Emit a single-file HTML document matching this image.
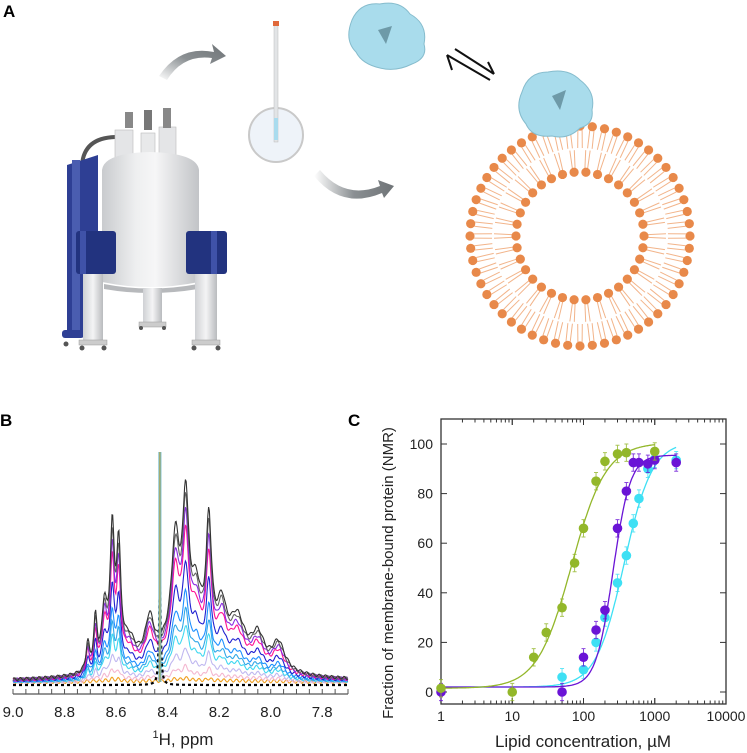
<!DOCTYPE html>
<html><head><meta charset="utf-8">
<style>
html,body{margin:0;padding:0;background:#fff;}
svg{display:block;font-family:"Liberation Sans",Arial,sans-serif;}
</style></head>
<body>
<svg id="fig" width="747" height="753" viewBox="0 0 747 753" xmlns="http://www.w3.org/2000/svg">
<defs>
  <linearGradient id="cyl" x1="0" x2="1"><stop offset="0" stop-color="#c9cbce"/><stop offset="0.35" stop-color="#eeeff0"/><stop offset="0.55" stop-color="#f6f6f7"/><stop offset="1" stop-color="#c2c4c7"/></linearGradient>
  <linearGradient id="leg" x1="0" x2="1"><stop offset="0" stop-color="#cfd1d4"/><stop offset="0.5" stop-color="#f4f4f5"/><stop offset="1" stop-color="#b9bbbe"/></linearGradient>
  <linearGradient id="arr1" x1="0" y1="1" x2="1" y2="0"><stop offset="0" stop-color="#ffffff"/><stop offset="0.5" stop-color="#8a8f92"/><stop offset="1" stop-color="#6f7477"/></linearGradient>
  <linearGradient id="arr2" x1="0" y1="0" x2="1" y2="0"><stop offset="0" stop-color="#ffffff"/><stop offset="0.5" stop-color="#8a8f92"/><stop offset="1" stop-color="#6f7477"/></linearGradient>
</defs>

<!-- Panel A -->
<text x="3" y="17" font-size="17" font-weight="bold">A</text>
<g>
  <path d="M82 165 Q84 138 115 137" fill="none" stroke="#555" stroke-width="4"/>
  <path d="M67 165 L98 155 L98 337 L67 337 Z" fill="#2e3f94"/>
  <rect x="72" y="160" width="8" height="175" fill="#4a5db0"/>
  <rect x="62" y="330" width="22" height="8" rx="3" fill="#2e3f94"/>
  <rect x="115" y="130" width="18" height="28" fill="#e4e5e7" stroke="#bbb" stroke-width="0.6"/>
  <rect x="159" y="127" width="17" height="30" fill="#e4e5e7" stroke="#bbb" stroke-width="0.6"/>
  <rect x="141" y="133" width="14" height="22" fill="#e8e9ea" stroke="#bbb" stroke-width="0.6"/>
  <rect x="125" y="112" width="8" height="16" fill="#888"/>
  <rect x="144" y="110" width="8" height="20" fill="#777"/>
  <rect x="163" y="108" width="8" height="20" fill="#888"/>
  <path d="M102 170 Q104 153 150 152 Q197 153 199 170 L199 282 Q150 292 102 282 Z" fill="url(#cyl)"/>
  <path d="M104 284 Q150 293 198 284 L198 289 Q150 297 104 289 Z" fill="#b7b9bc"/>
  <rect x="143" y="288" width="19" height="35" fill="url(#leg)"/>
  <rect x="139" y="322" width="27" height="5" fill="#ccc" stroke="#999" stroke-width="0.5"/>
  <rect x="83" y="273" width="20" height="70" fill="url(#leg)"/>
  <rect x="195" y="273" width="22" height="70" fill="url(#leg)"/>
  <rect x="79" y="340" width="28" height="5" fill="#ccc" stroke="#999" stroke-width="0.5"/>
  <rect x="192" y="340" width="28" height="5" fill="#ccc" stroke="#999" stroke-width="0.5"/>
  <rect x="76" y="231" width="40" height="43" rx="3" fill="#22337f"/>
  <rect x="80" y="231" width="6" height="43" fill="#3f52a8"/>
  <rect x="186" y="231" width="41" height="43" rx="3" fill="#22337f"/>
  <rect x="211" y="231" width="6" height="43" fill="#3f52a8"/>
  <g fill="#555"><circle cx="66" cy="344" r="2.5"/><circle cx="82" cy="348" r="2.5"/><circle cx="104" cy="348" r="2.5"/><circle cx="194" cy="348" r="2.5"/><circle cx="218" cy="348" r="2.5"/><circle cx="141" cy="328" r="2"/><circle cx="164" cy="328" r="2"/></g>
</g>
<path d="M159 76 Q180 45 214 52 L212 44 L226 56 L210 64 L212 58 Q183 54 167 80 Z" fill="url(#arr1)"/>
<path d="M320 170 Q345 200 380 186 L378 180 L394 186 L384 198 L382 193 Q342 210 314 176 Z" fill="url(#arr2)"/>
<g>
  <ellipse cx="276" cy="135" rx="27" ry="27" fill="#eef3f9" stroke="#c9c9c9" stroke-width="2"/>
  <rect x="274" y="24" width="4" height="118" fill="#e2e4e6" stroke="#bbb" stroke-width="0.5"/>
  <rect x="274" y="118" width="4" height="22" fill="#a9dbee"/>
  <rect x="273" y="21" width="6" height="5" fill="#e0683a"/>
</g>
<g>
  <path d="M352 20 Q360 2 380 4 Q400 0 410 14 Q428 24 424 44 Q428 58 412 64 Q396 72 380 68 Q362 64 356 52 Q344 40 352 20 Z" fill="#a9dcec" stroke="#86bccd" stroke-width="1"/>
  <path d="M378 30 L392 26 L386 44 Z" fill="#6e9aa8"/>
</g>
<g stroke="#111" stroke-width="2" fill="none">
  <path d="M447 55 L490 80 M447 55 L452 70"/>
  <path d="M455 49 L494 74 M494 74 L488 62"/>
</g>
<g id="lipo"></g>
<g>
  <path d="M522 92 Q528 72 548 72 Q568 68 580 80 Q596 92 592 110 Q594 124 580 128 Q568 140 552 136 Q532 138 526 124 Q514 110 522 92 Z" fill="#a9dcec" stroke="#86bccd" stroke-width="1"/>
  <path d="M552 96 L566 90 L560 110 Z" fill="#6e9aa8"/>
</g>

<!-- Panel B -->
<text x="0" y="426" font-size="17" font-weight="bold">B</text>
<g id="specB"></g>

<!-- Panel C -->
<text x="348" y="426" font-size="17" font-weight="bold">C</text>
<g id="chartC"></g>
</svg>

<script>
const NS="http://www.w3.org/2000/svg";
function mk(parent,tag,attrs){const e=document.createElementNS(NS,tag);for(const k in attrs)e.setAttribute(k,attrs[k]);parent.appendChild(e);return e;}

/* ---------- liposome ---------- */
(function(){
  const g=document.getElementById('lipo');
  const cx=580,cy=236;
  const rings=[{r:110,n:56,dir:-1},{r:64,n:34,dir:1}];
  rings.forEach(ring=>{
    for(let i=0;i<ring.n;i++){
      const a=i/ring.n*2*Math.PI;
      const c=Math.cos(a),s=Math.sin(a);
      const r1=ring.r+ring.dir*4, r2=ring.r+ring.dir*22;
      [-0.02,0.02].forEach(d=>{
        const l=mk(g,'line',{x1:cx+r1*Math.cos(a+d),y1:cy+r1*Math.sin(a+d),x2:cx+r2*Math.cos(a+d*1.3),y2:cy+r2*Math.sin(a+d*1.3),stroke:'#f2b48a','stroke-width':1});
        
        
      });
      const h=mk(g,'circle',{cx:cx+ring.r*c,cy:cy+ring.r*s,r:4.6,fill:'#e8894a'});
      
      
    }
  });
})();

/* ---------- Panel B spectra ---------- */
const peakPpm=[8.71,8.68,8.645,8.615,8.59,8.55,8.47,8.37,8.33,8.29,8.24,8.19,8.13,8.05,7.97,8.30];
const peakAmp=[28,50,60,130,110,25,40,100,130,40,115,40,40,30,28,45];
const peakWid=[0.008,0.008,0.012,0.01,0.01,0.03,0.02,0.018,0.014,0.02,0.012,0.02,0.035,0.03,0.03,0.15];
const seriesScale=[1.0,0.93,0.85,0.77,0.6,0.45,0.36,0.28,0.17,0.08,0.02];
const seriesColor=['#333333','#666666','#8a2be2','#ff1493','#2020d0','#1e90ff','#32a8e8','#40d8f0','#c0b8f0','#f4b8d0','#f0a020'];
const refSharpPeak=[8.43,100,0.004];
const xTicksB=[9.0,8.8,8.6,8.4,8.2,8.0,7.8];

(function(){
  const g=document.getElementById('specB');
  const X=p=>13+(9.0-p)*257.7;
  const base=682;
  const lor=(x,c,w)=>1/(1+((x-c)/w)**2);
  function pathFor(scale,ph){
    let d='';
    for(let p=9.0;p>=7.7-1e-9;p-=0.003){
      let y=0;
      for(let k=0;k<peakPpm.length;k++) y+=peakAmp[k]*lor(p,peakPpm[k],peakWid[k]);
      y*=scale;
      y+=1.5*Math.sin(p*260+ph);
      d+=(d?'L':'M')+X(p).toFixed(1)+' '+(base-y).toFixed(1);
    }
    return d;
  }
  for(let i=seriesScale.length-1;i>=0;i--){
    const p=mk(g,'path',{d:pathFor(seriesScale[i],i*1.7),fill:'none',stroke:seriesColor[i],'stroke-width':1.1});
    
    
  }
  let d='';
  for(let p=9.0;p>=7.7-1e-9;p-=0.002){
    const y=refSharpPeak[1]*lor(p,refSharpPeak[0],refSharpPeak[2])-3;
    d+=(d?'L':'M')+X(p).toFixed(1)+' '+(base-y).toFixed(1);
  }
  const dp=mk(g,'path',{d:d,fill:'none',stroke:'#000','stroke-width':2.2,'stroke-dasharray':'3,3'});
  
  
  const sl=mk(g,'rect',{x:X(8.43)-1.5,y:452,width:3,height:base-452,fill:'#6fb8c8'});
  
  
  mk(g,'rect',{x:X(8.43)-0.4,y:452,width:0.8,height:base-452,fill:'#d4a020'});
  const ax=mk(g,'line',{x1:13,y1:694,x2:348,y2:694,stroke:'#555','stroke-width':1.3});
  
  
  for(let p=9.0;p>=7.7-1e-9;p-=0.05){
    mk(g,'line',{x1:X(p),y1:689,x2:X(p),y2:694,stroke:'#555','stroke-width':1});
  }
  xTicksB.forEach(v=>{
    const t=mk(g,'text',{x:X(v),y:717,'font-size':15,'text-anchor':'middle',fill:'#222'});
    t.textContent=v.toFixed(1);
    
    
  });
  const xl=mk(g,'text',{x:183,y:745,'font-size':17,'text-anchor':'middle',fill:'#222'});
  xl.innerHTML='<tspan font-size="11" dy="-7">1</tspan><tspan dy="7">H, ppm</tspan>';
  
  
})();

/* ---------- Panel C binding curves ---------- */
const greenX=[1,10,20,30,50,75,100,150,200,300,400,1000];
const greenY=[1.5,0,14,24,34,52,66,85,93,96,96.5,97];
const purpleX=[1,50,100,150,200,300,400,500,600,800,1000,2000];
const purpleY=[0,0,14,25,33,66,81,92.5,92.5,92,93.5,92.5];
const cyanX=[50,100,150,200,300,400,500,600,800,1000,2000];
const cyanY=[6,9,20,30,44,55,68,78,90,94,93.5];
const errBar=3.5;
const greenFit=[68,1.8,1.5,100.5,1000];
const purpleFit=[260,3.6,2,95.5,2000];
const cyanFit=[370,2.2,2,101,2000];
const yTicksC=[0,20,40,60,80,100];
const xTicksC=[1,10,100,1000,10000];

(function(){
  const g=document.getElementById('chartC');
  const L=441,R=726,T=419,B=704;
  const X=v=>L+Math.log10(v)*(R-L)/4;
  const Y=v=>692-v*2.48;
  const fr=mk(g,'rect',{x:L,y:T,width:R-L,height:B-T,fill:'none',stroke:'#333','stroke-width':1.3});
  
  
  for(let dec=0;dec<4;dec++){
    for(let m=1;m<=10;m++){
      const v=Math.pow(10,dec)*m; const x=X(v); const len=(m==1||m==10)?6:3.5;
      mk(g,'line',{x1:x,y1:B,x2:x,y2:B-len,stroke:'#333','stroke-width':1});
      mk(g,'line',{x1:x,y1:T,x2:x,y2:T+len,stroke:'#333','stroke-width':1});
    }
  }
  yTicksC.forEach(v=>{
    mk(g,'line',{x1:L,y1:Y(v),x2:L+6,y2:Y(v),stroke:'#333'});
    mk(g,'line',{x1:R,y1:Y(v),x2:R-6,y2:Y(v),stroke:'#333'});
    const t=mk(g,'text',{x:433,y:Y(v)+5,'font-size':14,'text-anchor':'end',fill:'#222'});
    t.textContent=v;
    
    
  });
  xTicksC.forEach(v=>{
    const t=mk(g,'text',{x:X(v),y:721,'font-size':14,'text-anchor':'middle',fill:'#222'});
    t.textContent=v;
    
    
  });
  const yt=mk(g,'text',{x:0,y:0,'font-size':15,'text-anchor':'middle',fill:'#222',transform:'translate(393,573) rotate(-90)'});
  yt.textContent='Fraction of membrane-bound protein (NMR)';
  
  
  const xt=mk(g,'text',{x:583,y:747,'font-size':17,'text-anchor':'middle',fill:'#222'});
  xt.textContent='Lipid concentration, µM';
  
  

  function series(xs,ys,fit,color,name){
    const [K,n,mn,mx,xmax]=fit;
    let d='';
    for(let lv=0;lv<=Math.log10(xmax)+1e-9;lv+=0.01){
      const v=Math.pow(10,lv); const y=mn+(mx-mn)/(1+Math.pow(K/v,n));
      d+=(d?'L':'M')+X(v).toFixed(1)+' '+Y(y).toFixed(1);
    }
    const c=mk(g,'path',{d:d,fill:'none',stroke:color,'stroke-width':1.3});
    
    
    xs.forEach((xv,i)=>{
      const x=X(xv),y=Y(ys[i]);
      const e=mk(g,'path',{d:`M${x} ${Y(ys[i]+errBar)}L${x} ${Y(ys[i]-errBar)}M${x-2} ${Y(ys[i]+errBar)}L${x+2} ${Y(ys[i]+errBar)}M${x-2} ${Y(ys[i]-errBar)}L${x+2} ${Y(ys[i]-errBar)}`,stroke:color,'stroke-width':1,fill:'none',opacity:0.8});
      
      
      const p=mk(g,'circle',{cx:x,cy:y,r:4.8,fill:color});
      
      
    });
  }
  series(cyanX,cyanY,cyanFit,'#3ee0f4','cyan');
  series(purpleX,purpleY,purpleFit,'#6a14d6','purple');
  series(greenX,greenY,greenFit,'#93b72a','green');
})();
</script>
</body></html>
